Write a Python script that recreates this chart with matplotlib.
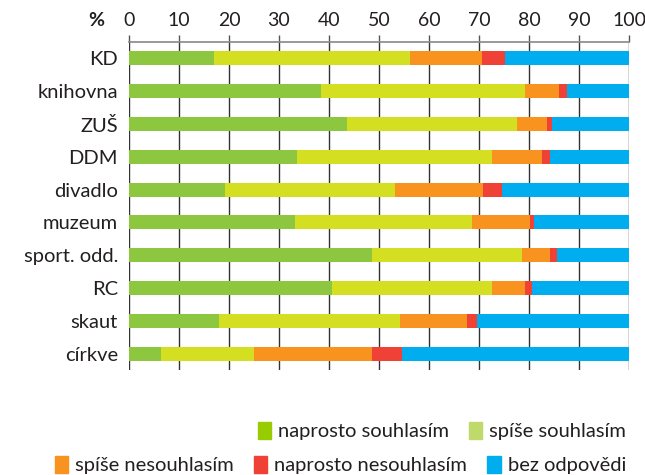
import numpy as np
import matplotlib
matplotlib.use('Agg')
import matplotlib.pyplot as plt
from matplotlib.patches import Patch

plt.rcParams['font.family'] = ['Lato', 'DejaVu Sans']

categories = ['KD', 'knihovna', 'ZUŠ', 'DDM', 'divadlo', 'muzeum',
              'sport. odd.', 'RC', 'skaut', 'církve']
naprosto_souhlasim = [17.0, 38.4, 43.5, 33.5, 19.1, 33.1, 48.5, 40.5, 18.0, 6.4]
spise_souhlasim = [39.1, 40.7, 34.0, 39.1, 34.0, 35.4, 30.1, 32.1, 36.1, 18.6]
spise_nesouhlasim = [14.4, 6.9, 6.0, 9.9, 17.7, 11.6, 5.6, 6.5, 13.4, 23.5]
naprosto_nesouhlasim = [4.6, 1.5, 1.0, 1.7, 3.7, 0.8, 1.3, 1.5, 2.0, 6.0]
bez_odpovedi = [24.9, 12.5, 15.5, 15.8, 25.5, 19.1, 14.5, 19.4, 30.5, 45.5]

series = [naprosto_souhlasim, spise_souhlasim, spise_nesouhlasim,
          naprosto_nesouhlasim, bez_odpovedi]
labels = ['naprosto souhlasím', 'spíše souhlasím', 'spíše nesouhlasím',
          'naprosto nesouhlasím', 'bez odpovědi']
bar_colors = ['#8dc63f', '#d5df22', '#f7931e', '#ef4136', '#00aeef']
legend_colors = ['#99cc00', '#bfd96b', '#f7931e', '#ef4136', '#00aeef']

fig = plt.figure(figsize=(6.45, 4.75), dpi=100)
ax = fig.add_axes([129/645, 1 - 370/475, 500/645, 328/475])

y = np.arange(len(categories))
left = np.zeros(len(categories))
for vals, c in zip(series, bar_colors):
    ax.barh(y, vals, left=left, height=0.43, color=c, zorder=3)
    left += np.array(vals)

ax.set_xlim(0, 100)
ax.set_ylim(len(categories) - 0.5, -0.5)
ax.set_yticks(y)
ax.set_yticklabels(categories, fontsize=14.5, color='#231f20')
ax.set_xticks(np.arange(0, 101, 10))
ax.xaxis.tick_top()
ax.tick_params(axis='x', direction='out', length=5, width=1, color='#555555',
               labelsize=14, labelcolor='#231f20', pad=4)
ax.tick_params(axis='y', length=0, pad=8)
ax.grid(axis='x', color='#333333', lw=1, zorder=0)
for s in ['left', 'right', 'bottom']:
    ax.spines[s].set_visible(False)
ax.spines['top'].set_color('#888888')
ax.spines['top'].set_linewidth(1.2)

fig.text(96/645, 1 - 20/475, '%', ha='center', va='center',
         fontsize=14, fontweight='bold', color='#231f20')

h1 = [Patch(color=legend_colors[i], label=labels[i]) for i in range(2)]
h2 = [Patch(color=legend_colors[i], label=labels[i]) for i in range(2, 5)]
kw = dict(frameon=False, fontsize=14.5, handlelength=0.65, handleheight=0.9,
          handletextpad=0.35, columnspacing=1.0, borderaxespad=0,
          labelcolor='#231f20')
fig.legend(handles=h1, ncol=2, loc='center right',
           bbox_to_anchor=(634/645, 1 - 431/475), **kw)
fig.legend(handles=h2, ncol=3, loc='center right',
           bbox_to_anchor=(634/645, 1 - 465/475), **kw)

fig.savefig('out.png', dpi=100)
